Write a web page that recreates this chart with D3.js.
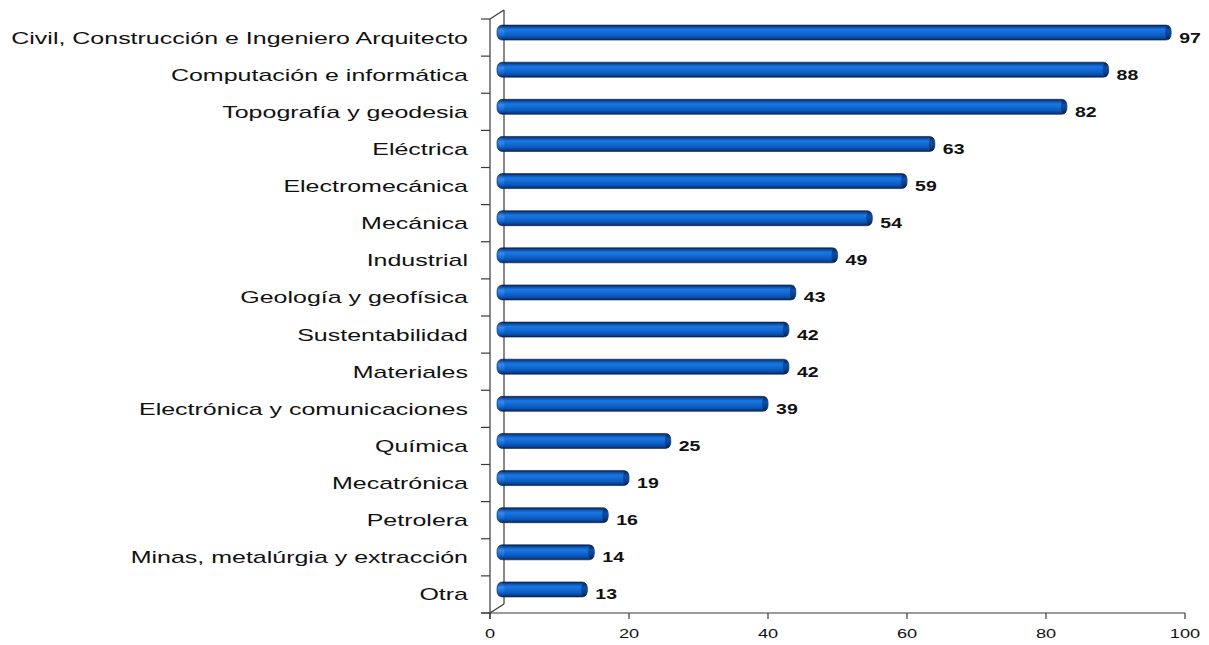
<!DOCTYPE html>
<html>
<head>
<meta charset="utf-8">
<script src="https://cdn.jsdelivr.net/npm/d3@7/dist/d3.min.js"></script>
<style>
  html, body { margin: 0; padding: 0; background: #fff; }
  svg { display: block; }
  text { font-family: "Liberation Sans", Arial, sans-serif; fill: #111; }
</style>
</head>
<body>
<svg id="chart" width="1209" height="645"></svg>
<script>
const categories = [
  "Civil, Construcción e Ingeniero Arquitecto",
  "Computación e informática",
  "Topografía y geodesia",
  "Eléctrica",
  "Electromecánica",
  "Mecánica",
  "Industrial",
  "Geología y geofísica",
  "Sustentabilidad",
  "Materiales",
  "Electrónica y comunicaciones",
  "Química",
  "Mecatrónica",
  "Petrolera",
  "Minas, metalúrgia y extracción",
  "Otra"
];
const values = [97, 88, 82, 63, 59, 54, 49, 43, 42, 42, 39, 25, 19, 16, 14, 13];
const xTicks = [0, 20, 40, 60, 80, 100];

const svg = d3.select("#chart");
const SX_CAT = 1.47, SX_VAL = 1.3, SX_TICK = 1.4;

const x = d3.scaleLinear().domain([0, 100]).range([490, 1185]);
const y = d3.scaleBand().domain(categories).range([19, 613]).padding(0);

const depthX = 14, depthY = -9;     // 3D back wall offset
const barDX = 7, barDY = -5;        // bar offset (mid depth)
const barH = 15;
const axisColor = "#3a3a3a";

// gradients
const defs = svg.append("defs");
const g1 = defs.append("linearGradient").attr("id", "barGrad")
  .attr("x1", 0).attr("y1", 0).attr("x2", 0).attr("y2", 1);
[[0, "#0b2552"], [0.12, "#0c4aa0"], [0.3, "#1a78e0"], [0.45, "#146fdb"],
 [0.75, "#0a58bd"], [0.9, "#083f8c"], [1, "#0a2350"]]
  .forEach(([o, c]) => g1.append("stop").attr("offset", o).attr("stop-color", c));
const g2 = defs.append("linearGradient").attr("id", "capGrad")
  .attr("x1", 0).attr("y1", 0).attr("x2", 0).attr("y2", 1);
[[0, "#0a2552"], [0.35, "#0d4fa8"], [0.7, "#0a3f8a"], [1, "#081f48"]]
  .forEach(([o, c]) => g2.append("stop").attr("offset", o).attr("stop-color", c));
const g3 = defs.append("linearGradient").attr("id", "leftGrad")
  .attr("x1", 0).attr("y1", 0).attr("x2", 0).attr("y2", 1);
[[0, "#1a4a90"], [0.35, "#3a8ff0"], [0.7, "#1a6fd6"], [1, "#0c3c86"]]
  .forEach(([o, c]) => g3.append("stop").attr("offset", o).attr("stop-color", c));

// axis frame (3D wall)
const x0 = x(0), yTop = y.range()[0], yBot = y.range()[1];
const frame = svg.append("g").attr("stroke", axisColor).attr("stroke-width", 1.2).attr("fill", "none");
frame.append("line").attr("x1", x0).attr("y1", yTop).attr("x2", x0).attr("y2", yBot + 6);
frame.append("line").attr("x1", x0 + depthX).attr("y1", yTop + depthY).attr("x2", x0 + depthX).attr("y2", yBot + depthY);
frame.append("line").attr("x1", x0).attr("y1", yTop).attr("x2", x0 + depthX).attr("y2", yTop + depthY);
frame.append("line").attr("x1", x0).attr("y1", yBot).attr("x2", x0 + depthX).attr("y2", yBot + depthY);
frame.append("line").attr("x1", x0 - 9).attr("y1", yBot).attr("x2", x(100)).attr("y2", yBot);

// left category ticks
const bounds = categories.map(c => y(c)).concat([yBot]);
frame.selectAll("line.ct").data(bounds).enter().append("line")
  .attr("x1", x0 - 9).attr("x2", x0).attr("y1", d => d).attr("y2", d => d);

// bottom ticks
frame.selectAll("line.xt").data(xTicks).enter().append("line")
  .attr("x1", d => x(d)).attr("x2", d => x(d)).attr("y1", yBot).attr("y2", yBot + 6);

svg.append("g").selectAll("text").data(xTicks).enter().append("text")
  .attr("transform", d => `translate(${x(d)},638) scale(${SX_TICK},1)`)
  .attr("text-anchor", "middle").style("font-size", "13px")
  .text(d => d);

// category labels
svg.append("g").selectAll("text").data(categories).enter().append("text")
  .attr("transform", d => `translate(468,${y(d) + y.bandwidth() / 2 + 6}) scale(${SX_CAT},1)`)
  .attr("text-anchor", "end").style("font-size", "17px")
  .text(d => d);

// bars
const bars = svg.append("g").selectAll("g").data(categories).enter().append("g");
bars.append("rect")
  .attr("x", x(0) + barDX)
  .attr("y", d => y(d) + y.bandwidth() / 2 + barDY - barH / 2)
  .attr("width", (d, i) => x(values[i]) - x(0))
  .attr("height", barH)
  .attr("rx", 5).attr("ry", 6)
  .attr("fill", "url(#barGrad)")
  .attr("stroke", "#0a1e40").attr("stroke-width", 0.6);
bars.append("ellipse")
  .attr("cx", (d, i) => x(values[i]) + barDX - 3)
  .attr("cy", d => y(d) + y.bandwidth() / 2 + barDY)
  .attr("rx", 3).attr("ry", barH / 2 - 0.5)
  .attr("fill", "url(#capGrad)");
bars.append("ellipse")
  .attr("cx", x(0) + barDX + 4)
  .attr("cy", d => y(d) + y.bandwidth() / 2 + barDY)
  .attr("rx", 3.5).attr("ry", barH / 2 - 1)
  .attr("fill", "url(#leftGrad)").attr("opacity", 0.8);

// value labels
svg.append("g").selectAll("text").data(categories).enter().append("text")
  .attr("transform", (d, i) => `translate(${x(values[i]) + barDX + 8},${y(d) + y.bandwidth() / 2 + 5}) scale(${SX_VAL},1)`)
  .style("font-size", "15px").style("font-weight", "bold")
  .text((d, i) => values[i]);
</script>
</body>
</html>
